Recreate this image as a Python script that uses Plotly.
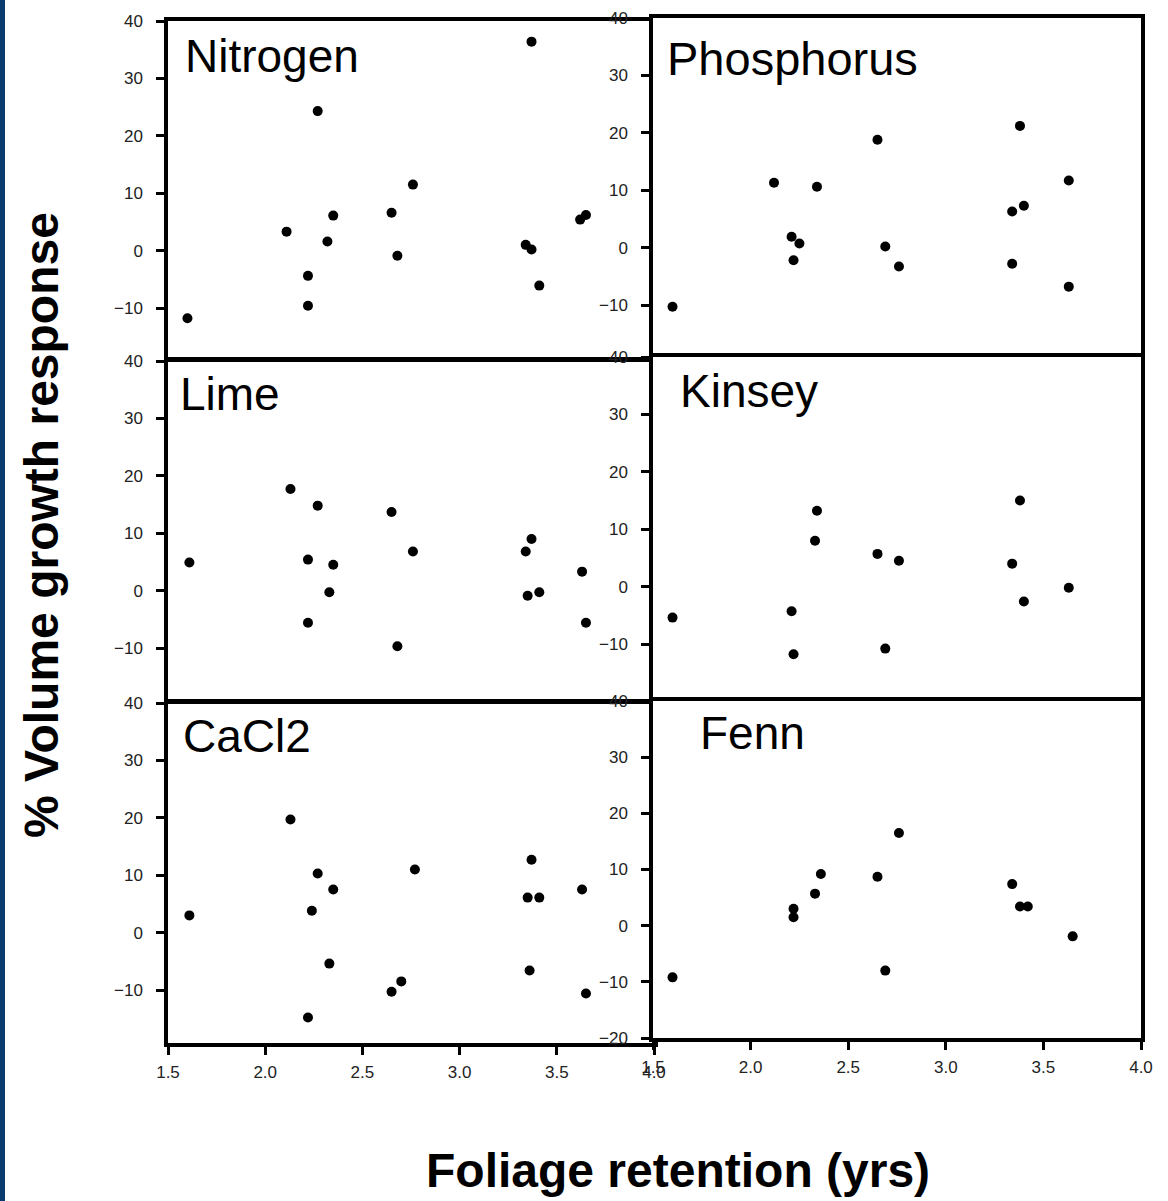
import plotly.graph_objects as go

# Foliage retention (yrs) and % volume growth response for each treatment
nitrogen_x = [1.60, 2.11, 2.27, 2.35, 2.32, 2.22, 2.22, 2.65, 2.76, 2.68, 3.37, 3.34, 3.37, 3.41, 3.62, 3.65]
nitrogen_y = [-11.8, 3.3, 24.3, 6.1, 1.6, -4.4, -9.6, 6.6, 11.5, -0.9, 36.4, 1.0, 0.2, -6.1, 5.4, 6.2]

phosphorus_x = [1.60, 2.12, 2.21, 2.25, 2.22, 2.34, 2.65, 2.69, 2.76, 3.38, 3.63, 3.34, 3.40, 3.34, 3.63]
phosphorus_y = [-10.3, 11.3, 1.9, 0.7, -2.2, 10.6, 18.8, 0.2, -3.3, 21.2, 11.7, 6.3, 7.3, -2.8, -6.8]

lime_x = [1.61, 2.13, 2.27, 2.22, 2.35, 2.33, 2.22, 2.65, 2.76, 2.68, 3.37, 3.34, 3.35, 3.41, 3.63, 3.65]
lime_y = [4.9, 17.7, 14.8, 5.4, 4.5, -0.3, -5.6, 13.7, 6.8, -9.7, 9.0, 6.8, -0.9, -0.3, 3.3, -5.6]

kinsey_x = [1.60, 2.21, 2.22, 2.34, 2.33, 2.65, 2.76, 2.69, 3.38, 3.34, 3.40, 3.63]
kinsey_y = [-5.4, -4.3, -11.8, 13.2, 8.0, 5.7, 4.5, -10.8, 15.0, 4.0, -2.6, -0.2]

cacl2_x = [1.61, 2.13, 2.27, 2.35, 2.24, 2.33, 2.22, 2.65, 2.70, 2.77, 3.37, 3.35, 3.41, 3.36, 3.63, 3.65]
cacl2_y = [3.0, 19.7, 10.3, 7.5, 3.8, -5.4, -14.8, -10.3, -8.5, 11.0, 12.7, 6.1, 6.1, -6.6, 7.5, -10.6]

fenn_x = [1.60, 2.22, 2.22, 2.33, 2.36, 2.65, 2.76, 2.69, 3.34, 3.38, 3.42, 3.65]
fenn_y = [-9.2, 3.0, 1.5, 5.7, 9.2, 8.7, 16.5, -8.0, 7.4, 3.4, 3.4, -1.9]

panel_names = ["Nitrogen", "Phosphorus", "Lime", "Kinsey", "CaCl2", "Fenn"]
panel_data = [
    (nitrogen_x, nitrogen_y),
    (phosphorus_x, phosphorus_y),
    (lime_x, lime_y),
    (kinsey_x, kinsey_y),
    (cacl2_x, cacl2_y),
    (fenn_x, fenn_y),
]

x_ticks = [1.5, 2.0, 2.5, 3.0, 3.5, 4.0]
y_ticks = [-10, 0, 10, 20, 30, 40]
y_ticks_last = [-20, -10, 0, 10, 20, 30, 40]

W, H = 1168, 1201
LW = 3.5  # frame line width


def px_x(p):
    return p / W


def px_y(p):
    return 1 - p / H


# panel frames in pixels: (left, right, top, bottom, pixels per % unit)
# upper panels stop one line width short so shared edges draw as one line
frames = [
    (168, 654, 21, 361 - LW, 5.74),
    (653, 1141, 18, 357 - LW, 5.74),
    (168, 654, 361, 703 - LW, 5.74),
    (653, 1141, 357, 701 - LW, 5.74),
    (168, 654, 703, 1043, 5.74),
    (653, 1141, 701, 1038, 5.617),
]

# label anchor (left edge, vertical centre of capitals) in pixels
label_pos = [(183, 56), (665, 58), (178, 394), (678, 391), (181, 736), (698, 733)]
label_size = [46, 47, 46, 46, 46, 46]

tick_font = dict(family="Liberation Sans, Arial, sans-serif", size=17, color="#222222")

fig = go.Figure()
layout = dict(
    width=W,
    height=H,
    margin=dict(l=0, r=0, t=0, b=0),
    paper_bgcolor="white",
    plot_bgcolor="white",
    showlegend=False,
    annotations=[],
    shapes=[],
)

for i, ((xs, ys), (l, r, t, b, scale)) in enumerate(zip(panel_data, frames)):
    n = i + 1
    xa = "xaxis" if n == 1 else f"xaxis{n}"
    ya = "yaxis" if n == 1 else f"yaxis{n}"
    xref = "x" if n == 1 else f"x{n}"
    yref = "y" if n == 1 else f"y{n}"
    bottom_row = n >= 5
    y_lo = 40 - (b - t) / scale
    fig.add_trace(
        go.Scatter(
            x=xs,
            y=ys,
            mode="markers",
            marker=dict(color="black", size=10),
            xaxis=xref,
            yaxis=yref,
            cliponaxis=False,
        )
    )
    layout[xa] = dict(
        domain=[px_x(l), px_x(r)],
        range=[1.5, 4.0],
        anchor=yref,
        showgrid=False,
        zeroline=False,
        showline=True,
        linecolor="black",
        linewidth=LW,
        mirror=True,
        ticks="outside" if bottom_row else "",
        ticklen=8,
        tickwidth=3,
        tickcolor="black",
        tickvals=x_ticks,
        tickformat=".1f",
        showticklabels=bottom_row,
        tickfont=tick_font,
        ticklabelstandoff=3,
        automargin=False,
    )
    layout[ya] = dict(
        domain=[px_y(b), px_y(t)],
        range=[y_lo, 40],
        anchor=xref,
        showgrid=False,
        zeroline=False,
        showline=True,
        linecolor="black",
        linewidth=LW,
        mirror=True,
        ticks="outside",
        ticklen=8,
        tickwidth=3,
        tickcolor="black",
        tickvals=y_ticks_last if n == 6 else y_ticks,
        tickfont=tick_font,
        ticklabelstandoff=10,
        automargin=False,
    )
    lx, ly = label_pos[i]
    layout["annotations"].append(
        dict(
            text=panel_names[i],
            x=px_x(lx),
            y=px_y(ly),
            xref="paper",
            yref="paper",
            xanchor="left",
            yanchor="middle",
            showarrow=False,
            font=dict(family="Liberation Sans, Arial, sans-serif", size=label_size[i], color="black"),
        )
    )

layout["annotations"].append(
    dict(
        text="% Volume growth response",
        x=px_x(41),
        y=px_y(525),
        xref="paper",
        yref="paper",
        xanchor="center",
        yanchor="middle",
        textangle=-90,
        showarrow=False,
        font=dict(family="Liberation Sans, Arial, sans-serif", size=48, color="black", weight="bold"),
    )
)
layout["annotations"].append(
    dict(
        text="Foliage retention (yrs)",
        x=px_x(678),
        y=px_y(1170),
        xref="paper",
        yref="paper",
        xanchor="center",
        yanchor="middle",
        showarrow=False,
        font=dict(family="Liberation Sans, Arial, sans-serif", size=48, color="black", weight="bold"),
    )
)

# dark blue strip along the left edge
layout["shapes"].append(
    dict(
        type="rect",
        xref="paper",
        yref="paper",
        x0=0,
        x1=px_x(5),
        y0=0,
        y1=1,
        fillcolor="#0b3a6e",
        line=dict(width=0),
        layer="above",
    )
)

fig.update_layout(**layout)
fig.write_html("out.html")
